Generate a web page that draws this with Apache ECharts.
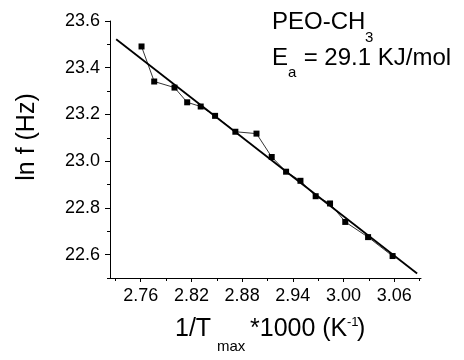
<!DOCTYPE html>
<html>
<head>
<meta charset="utf-8">
<script src="https://cdn.jsdelivr.net/npm/echarts@6/dist/echarts.min.js"></script>
<style>
html,body{margin:0;padding:0;background:#fff;}
#chart{width:464px;height:360px;}
</style>
</head>
<body>
<div id="chart"></div>
<script>
// Measured data: x = 1/Tmax*1000 (K^-1), y = ln f (Hz)
var xValues = [2.761, 2.776, 2.800, 2.815, 2.831, 2.848, 2.872, 2.897, 2.915, 2.932, 2.949, 2.967, 2.984, 3.002, 3.029, 3.058];
var yValues = [23.491, 23.341, 23.315, 23.252, 23.234, 23.194, 23.126, 23.118, 23.018, 22.955, 22.916, 22.850, 22.819, 22.740, 22.675, 22.594];
// Linear fit end points
var fitX = [2.731, 3.087];
var fitY = [23.522, 22.519];
// Tick labels / tick positions
var xLabels = [2.76, 2.82, 2.88, 2.94, 3.00, 3.06];
var xMinorTicks = [2.73, 2.79, 2.85, 2.91, 2.97, 3.03, 3.09];
var yLabels = [22.6, 22.8, 23.0, 23.2, 23.4, 23.6];
var yMinorTicks = [22.5, 22.7, 22.9, 23.1, 23.3, 23.5];

var FONT = '"Liberation Sans", Arial, sans-serif';
var points = xValues.map(function (x, i) { return [x, yValues[i]]; });
var fitLine = fitX.map(function (x, i) { return [x, fitY[i]]; });

var XMIN = 2.7237, XMAX = 3.0916, YMIN = 22.5, YMAX = 23.6;

function xAxisBase(extra) {
  var a = {
    type: 'value', position: 'bottom', min: XMIN, max: XMAX,
    axisLine: { show: true, onZero: false, lineStyle: { color: '#000', width: 1 } },
    splitLine: { show: false }
  };
  for (var k in extra) a[k] = extra[k];
  return a;
}
function yAxisBase(extra) {
  var a = {
    type: 'value', position: 'left', min: YMIN, max: YMAX,
    axisLine: { show: true, onZero: false, lineStyle: { color: '#000', width: 1 } },
    splitLine: { show: false }
  };
  for (var k in extra) a[k] = extra[k];
  return a;
}

var chart = echarts.init(document.getElementById('chart'), null, { renderer: 'canvas' });
chart.setOption({
  animation: false,
  backgroundColor: '#fff',
  grid: { left: 110, right: 43, top: 21, bottom: 82, containLabel: false },
  xAxis: [
    xAxisBase({
      axisTick: { show: true, length: 4, lineStyle: { color: '#000' }, customValues: xLabels },
      axisLabel: {
        show: true, customValues: xLabels, margin: 9, color: '#000', fontSize: 18, fontFamily: FONT,
        formatter: function (v) { return v.toFixed(2); }
      }
    }),
    xAxisBase({
      axisLine: { show: false },
      axisTick: { show: true, length: 3, lineStyle: { color: '#000' }, customValues: xMinorTicks },
      axisLabel: { show: false }
    })
  ],
  yAxis: [
    yAxisBase({
      axisTick: { show: true, length: 5, lineStyle: { color: '#000' }, customValues: yLabels },
      axisLabel: {
        show: true, customValues: yLabels, margin: 10, color: '#000', fontSize: 18, fontFamily: FONT,
        formatter: function (v) { return v.toFixed(1); }
      }
    }),
    yAxisBase({
      axisLine: { show: false },
      axisTick: { show: true, length: 3, lineStyle: { color: '#000' }, customValues: yMinorTicks },
      axisLabel: { show: false }
    })
  ],
  series: [
    {
      type: 'line', data: points, xAxisIndex: 0, yAxisIndex: 0,
      symbol: 'rect', symbolSize: 6, showSymbol: true,
      lineStyle: { color: '#000', width: 0.8 },
      itemStyle: { color: '#000' }, z: 3
    },
    {
      type: 'line', data: fitLine, xAxisIndex: 0, yAxisIndex: 0,
      symbol: 'none', lineStyle: { color: '#000', width: 1.8 }, z: 2
    }
  ],
  graphic: [
    { type: 'text', x: 272, y: 22, style: { text: 'PEO-CH', font: '24px ' + FONT, fill: '#000', align: 'left', verticalAlign: 'middle' } },
    { type: 'text', x: 365, y: 38, style: { text: '3', font: '15px ' + FONT, fill: '#000', align: 'left', verticalAlign: 'middle' } },
    { type: 'text', x: 272, y: 58, style: { text: 'E', font: '24px ' + FONT, fill: '#000', align: 'left', verticalAlign: 'middle' } },
    { type: 'text', x: 288, y: 73, style: { text: 'a', font: '15px ' + FONT, fill: '#000', align: 'left', verticalAlign: 'middle' } },
    { type: 'text', x: 297, y: 58, style: { text: ' = 29.1 KJ/mol', font: '24px ' + FONT, fill: '#000', align: 'left', verticalAlign: 'middle' } },
    { type: 'text', x: 27, y: 137, rotation: Math.PI / 2, style: { text: 'ln f (Hz)', font: '25px ' + FONT, fill: '#000', align: 'center', verticalAlign: 'middle' } },
    { type: 'text', x: 175, y: 329, style: { text: '1/T', font: '25px ' + FONT, fill: '#000', align: 'left', verticalAlign: 'middle' } },
    { type: 'text', x: 217, y: 347, style: { text: 'max', font: '15px ' + FONT, fill: '#000', align: 'left', verticalAlign: 'middle' } },
    { type: 'text', x: 250, y: 329, style: { text: '*1000 (K', font: '25px ' + FONT, fill: '#000', align: 'left', verticalAlign: 'middle' } },
    { type: 'text', x: 347, y: 322, style: { text: '-1', font: '13px ' + FONT, fill: '#000', align: 'left', verticalAlign: 'middle' } },
    { type: 'text', x: 357, y: 329, style: { text: ')', font: '25px ' + FONT, fill: '#000', align: 'left', verticalAlign: 'middle' } }
  ]
});
</script>
</body>
</html>
